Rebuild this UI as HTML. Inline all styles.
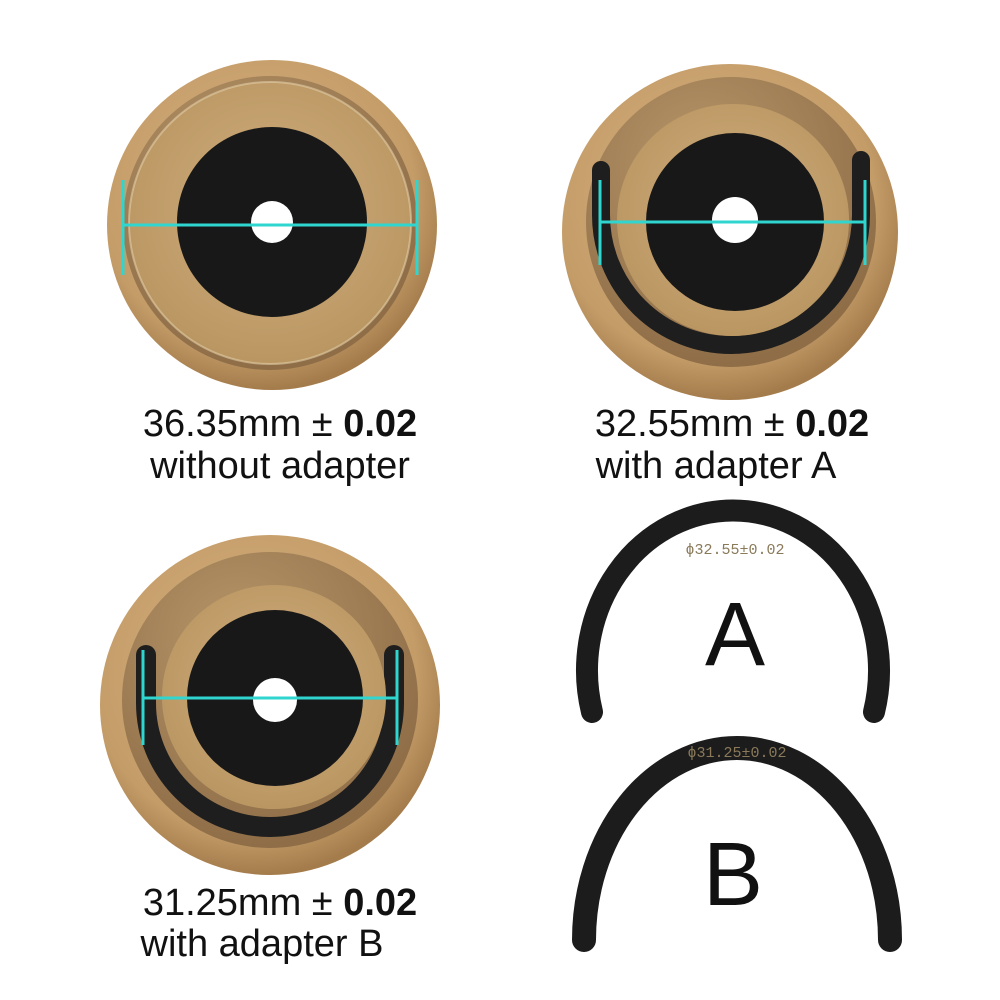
<!DOCTYPE html>
<html><head><meta charset="utf-8"><style>
html,body{margin:0;padding:0;background:#fff;width:1000px;height:1000px;overflow:hidden}
</style></head><body>
<svg width="1000" height="1000" viewBox="0 0 1000 1000" xmlns="http://www.w3.org/2000/svg">
<defs>
<radialGradient id="g1" cx="45%" cy="40%" r="60%">
<stop offset="0" stop-color="#d6b383"/><stop offset="0.8" stop-color="#c49c68"/><stop offset="1" stop-color="#a47c4c"/>
</radialGradient>
<radialGradient id="g2" cx="40%" cy="30%" r="70%">
<stop offset="0" stop-color="#b8966a"/><stop offset="1" stop-color="#8e6d47"/>
</radialGradient>
<radialGradient id="g3" cx="50%" cy="45%" r="60%">
<stop offset="0" stop-color="#cfae7e"/><stop offset="1" stop-color="#b8945f"/>
</radialGradient>
</defs>

<!-- Top-left ring -->
<circle cx="272" cy="225" r="165" fill="url(#g1)"/>
<circle cx="270" cy="223" r="147" fill="url(#g2)"/>
<circle cx="270" cy="223" r="141" fill="url(#g3)"/>
<circle cx="270" cy="223" r="141" fill="none" stroke="#e2cfa8" stroke-width="2" opacity="0.6"/>
<circle cx="272" cy="222" r="95" fill="#181818"/>
<circle cx="272" cy="222" r="21" fill="#fff"/>
<g stroke="#2fd6cf" stroke-width="3">
<line x1="123" y1="225" x2="417" y2="225"/>
<line x1="123" y1="180" x2="123" y2="275"/>
<line x1="417" y1="180" x2="417" y2="275"/>
</g>

<!-- Top-right ring -->
<circle cx="730" cy="232" r="168" fill="url(#g1)"/>
<circle cx="731" cy="222" r="145" fill="url(#g2)"/>
<path d="M601 170 L601 215 A130 130 0 0 0 861 215 L861 160" fill="none" stroke="#1e1e1e" stroke-width="18" stroke-linecap="round"/>
<circle cx="733" cy="220" r="116" fill="url(#g3)"/>
<circle cx="735" cy="222" r="89" fill="#181818"/>
<circle cx="735" cy="220" r="23" fill="#fff"/>
<g stroke="#2fd6cf" stroke-width="3">
<line x1="600" y1="222" x2="864" y2="222"/>
<line x1="600" y1="180" x2="600" y2="265"/>
<line x1="865" y1="180" x2="865" y2="265"/>
</g>

<!-- Bottom-left ring -->
<circle cx="270" cy="705" r="170" fill="url(#g1)"/>
<circle cx="270" cy="700" r="148" fill="url(#g2)"/>
<path d="M146 655 L146 703 A124 124 0 0 0 394 703 L394 655" fill="none" stroke="#1e1e1e" stroke-width="20" stroke-linecap="round"/>
<circle cx="274" cy="697" r="112" fill="url(#g3)"/>
<circle cx="275" cy="698" r="88" fill="#181818"/>
<circle cx="275" cy="700" r="22" fill="#fff"/>
<g stroke="#2fd6cf" stroke-width="3">
<line x1="143" y1="698" x2="397" y2="698"/>
<line x1="143" y1="650" x2="143" y2="745"/>
<line x1="397" y1="650" x2="397" y2="745"/>
</g>

<!-- Captions -->
<g font-family="Liberation Sans, sans-serif" font-size="38" fill="#111" text-anchor="middle">
<text x="280" y="436">36.35mm ± <tspan font-weight="bold">0.02</tspan></text>
<text x="280" y="478">without adapter</text>
<text x="732" y="436">32.55mm ± <tspan font-weight="bold">0.02</tspan></text>
<text x="716" y="478">with adapter A</text>
<text x="280" y="915">31.25mm ± <tspan font-weight="bold">0.02</tspan></text>
<text x="262" y="956">with adapter B</text>
</g>

<!-- Adapter A -->
<path d="M592 712 A146 160 0 1 1 874 712" fill="none" stroke="#1c1c1c" stroke-width="22" stroke-linecap="round"/>
<text x="735" y="554" font-family="Liberation Mono, monospace" font-size="15" fill="#8a7a5a" text-anchor="middle">ϕ32.55±0.02</text>
<text x="735" y="665" font-family="Liberation Sans, sans-serif" font-size="90" fill="#111" text-anchor="middle">A</text>

<!-- Adapter B -->
<path d="M584 940 A153 192 0 1 1 890 940" fill="none" stroke="#1c1c1c" stroke-width="24" stroke-linecap="round"/>
<text x="737" y="757" font-family="Liberation Mono, monospace" font-size="15" fill="#8a7a5a" text-anchor="middle">ϕ31.25±0.02</text>
<text x="733" y="905" font-family="Liberation Sans, sans-serif" font-size="90" fill="#111" text-anchor="middle">B</text>
</svg>
</body></html>
